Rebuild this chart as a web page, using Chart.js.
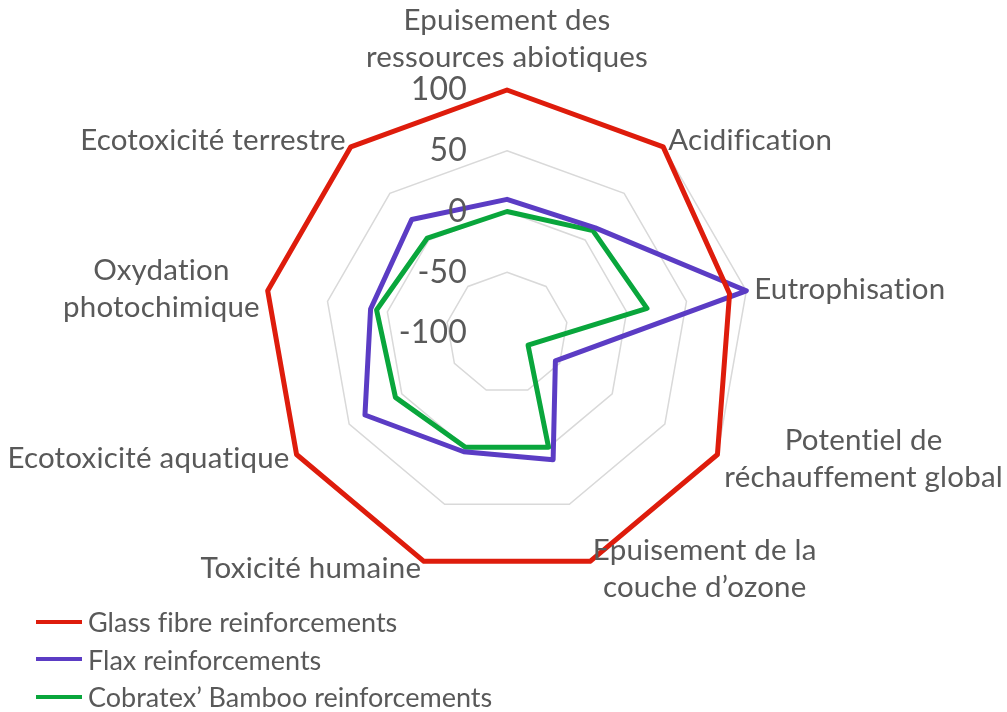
<!DOCTYPE html>
<html>
<head>
<meta charset="utf-8">
<script src="https://cdn.jsdelivr.net/npm/chart.js@4.4.1/dist/chart.umd.min.js"></script>
<style>
  body { margin: 0; background: #fff; }
  #wrap { position: relative; width: 1007px; height: 712px; }
  #legend { position: absolute; left: 36px; top: 603px; font: 27px Lato, sans-serif; color: #595959; font-variant-ligatures: none; }
  #legend .row { height: 37.5px; display: flex; align-items: center; }
  #legend .sw { width: 46px; height: 4px; margin-right: 6px; display: inline-block; }
</style>
</head>
<body>
<div id="wrap">
  <canvas id="radarChart"></canvas>
  <div id="legend"></div>
</div>
<script>
// axes of the radar, clockwise from the top
const categories = [
  ["Epuisement des", "ressources abiotiques"],
  "Acidification",
  "Eutrophisation",
  ["Potentiel de", "réchauffement global"],
  ["Epuisement de la", "couche d’ozone"],
  "Toxicité humaine",
  "Ecotoxicité aquatique",
  ["Oxydation", "photochimique"],
  "Ecotoxicité terrestre"
];

const seriesNames = ["Glass fibre reinforcements", "Flax reinforcements", "Cobratex’ Bamboo reinforcements"];
const glassFibre = [100, 100, 86, 100, 100, 100, 100, 100, 100];
const flax = [10, 13, 100, -54, 11, 4, 35, 14, 22];
const bamboo = [0, 10, 17, -80, 0, 0, 6, 9, 2];
const tickValues = [-100, -50, 0, 50, 100];

const colors = ["#DE1C0C", "#5B3CC4", "#09A63C"];
const textColor = "#595959";

// Excel-like labels: drawn on top of the lines, ticks sit left of the vertical axis
const labelPlugin = {
  id: "excelLabels",
  afterDatasetsDraw(chart) {
    const scale = chart.scales.r;
    const ctx = chart.ctx;
    ctx.save();
    ctx.fillStyle = textColor;
    ctx.textBaseline = "middle";
    ctx.letterSpacing = "0.2px"; // also stops the Lato "ti" ligature

    ctx.font = "32px Lato";
    ctx.textAlign = "right";
    scale.ticks.forEach((t) => {
      const d = scale.getDistanceFromCenterForValue(t.value);
      ctx.fillText(String(t.value), scale.xCenter - 40, scale.yCenter - d);
    });

    ctx.font = "29.5px Lato";
    ctx.textAlign = "center";
    const lineH = 37;
    chart.data.labels.forEach((lab, i) => {
      const lines = Array.isArray(lab) ? lab : [lab];
      const p = scale.getPointPosition(i, scale.drawingArea + 8);
      const w = Math.max(...lines.map((l) => ctx.measureText(l).width));
      const h = lines.length * lineH;
      const dx = p.x - scale.xCenter;
      let cx, cy;
      if (Math.abs(dx) < 1) {
        cx = p.x;
        cy = p.y - 6 - h / 2;
      } else {
        cx = dx > 0 ? p.x + w / 2 : p.x - w / 2;
        cy = p.y;
      }
      lines.forEach((l, k) => ctx.fillText(l, cx, cy - h / 2 + lineH * (k + 0.5)));
    });
    ctx.restore();
  }
};

const seriesData = [glassFibre, flax, bamboo];

const chart = new Chart(document.getElementById("radarChart"), {
  type: "radar",
  data: {
    labels: categories,
    datasets: seriesNames.map((name, i) => ({
      label: name,
      data: seriesData[i],
      borderColor: colors[i],
      backgroundColor: colors[i],
      borderWidth: 5,
      borderJoinStyle: "round",
      fill: false,
      pointRadius: 0,
      pointHoverRadius: 0,
      tension: 0
    }))
  },
  options: {
    responsive: true,
    maintainAspectRatio: false,
    animation: false,
    layout: { padding: { left: 8, right: 0, top: 90, bottom: 136 } },
    plugins: { legend: { display: false }, tooltip: { enabled: false } },
    scales: {
      r: {
        min: tickValues[0],
        max: tickValues[tickValues.length - 1],
        ticks: { stepSize: 50, display: false },
        grid: { color: "#D9D9D9", lineWidth: 1.5 },
        angleLines: { display: false },
        pointLabels: { display: false }
      }
    }
  },
  plugins: [labelPlugin]
});

// legend in a single column under the chart
const legend = document.getElementById("legend");
chart.data.datasets.forEach((ds) => {
  const row = document.createElement("div");
  row.className = "row";
  const sw = document.createElement("span");
  sw.className = "sw";
  sw.style.background = ds.borderColor;
  row.appendChild(sw);
  row.appendChild(document.createTextNode(ds.label));
  legend.appendChild(row);
});
</script>
</body>
</html>
